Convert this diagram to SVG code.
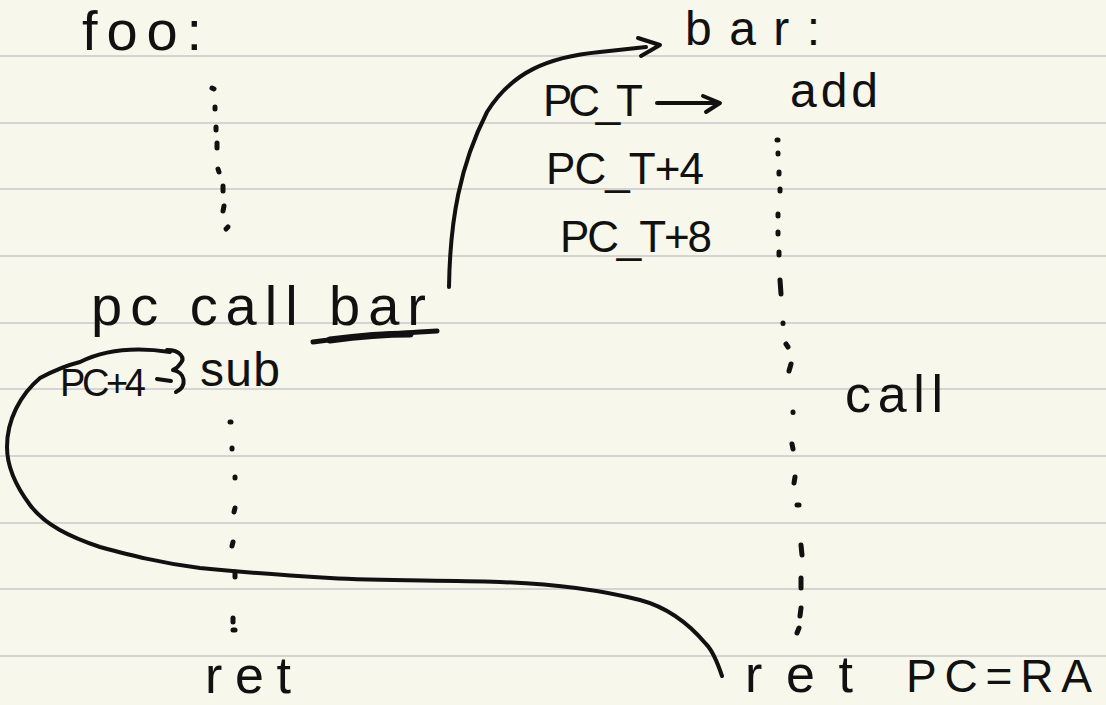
<svg xmlns="http://www.w3.org/2000/svg" width="1106" height="705" viewBox="0 0 1106 705">
<style>
.t{font-family:"Liberation Sans",Arial,sans-serif;fill:#111}
.rule{stroke:#d4d4d2;stroke-width:2}
.ink{fill:none;stroke:#111;stroke-width:4;stroke-linecap:round;stroke-linejoin:round}
.dot{fill:none;stroke:#111;stroke-width:5;stroke-linecap:round}
</style>
<rect width="1106" height="705" fill="#f8f7eb"/>
<g id="rules">
<line class="rule" x1="0" y1="56" x2="1106" y2="56"/>
<line class="rule" x1="0" y1="123" x2="1106" y2="123"/>
<line class="rule" x1="0" y1="189" x2="1106" y2="189"/>
<line class="rule" x1="0" y1="256" x2="1106" y2="256"/>
<line class="rule" x1="0" y1="323" x2="1106" y2="323"/>
<line class="rule" x1="0" y1="389" x2="1106" y2="389"/>
<line class="rule" x1="0" y1="456" x2="1106" y2="456"/>
<line class="rule" x1="0" y1="523" x2="1106" y2="523"/>
<line class="rule" x1="0" y1="589" x2="1106" y2="589"/>
<line class="rule" x1="0" y1="656" x2="1106" y2="656"/>
</g>
<g id="foo">
<text class="t" x="82" y="50" font-size="56" textLength="120" lengthAdjust="spacing">foo:</text>
<g id="foo-dots">
<path class="dot" d="M212,88 l2,1"/>
<path class="dot" d="M215,107 l0,2"/>
<path class="dot" d="M216,127 l0,3"/>
<path class="dot" d="M217,143 l0,5"/>
<path class="dot" d="M218,169 l1,3"/>
<path class="dot" d="M223,186 l0,5"/>
<path class="dot" d="M224,206 l-1,5"/>
<path class="dot" d="M228,227 l-2,2"/>
</g>
</g>
<g id="call-bar">
<text class="t" x="91" y="325" font-size="56" textLength="335" lengthAdjust="spacing">pc call bar</text>
<path d="M313,342 C350,337 400,333 437,331" fill="none" stroke="#111" stroke-width="5" stroke-linecap="round"/>
<path d="M330,340 C360,336 390,334 410,334" fill="none" stroke="#111" stroke-width="7" stroke-linecap="round"/>
</g>
<g id="sub">
<text class="t" x="60" y="396" font-size="38" textLength="86" lengthAdjust="spacing">PC+4</text>
<path class="ink" d="M157,379 L171,381"/>
<text class="t" x="200" y="386" font-size="48" textLength="80" lengthAdjust="spacing">sub</text>
<g id="sub-dots">
<path class="dot" d="M230,422 l1,0"/>
<path class="dot" d="M232,448 l0,1"/>
<path class="dot" d="M235,477 l0,1"/>
<path class="dot" d="M235,508 l-1,4"/>
<path class="dot" d="M233,542 l-1,4"/>
<path class="dot" d="M235,572 l0,5"/>
<path class="dot" d="M233,618 l0,4"/>
<path class="dot" d="M233,630 l2,0"/>
</g>
</g>
<g id="foo-ret">
<text class="t" x="205" y="693" font-size="52" textLength="86" lengthAdjust="spacing">ret</text>
</g>
<g id="bar">
<text class="t" x="685" y="45" font-size="48" textLength="135" lengthAdjust="spacing">bar:</text>
<text class="t" x="543" y="116" font-size="44" textLength="100" lengthAdjust="spacing">PC_T</text>
<path class="ink" d="M657,103 L719,103 M703,96 L720,103 L706,112"/>
<text class="t" x="790" y="107" font-size="48" textLength="88" lengthAdjust="spacing">add</text>
<text class="t" x="546" y="184" font-size="44" textLength="158" lengthAdjust="spacing">PC_T+4</text>
<text class="t" x="560" y="252" font-size="44" textLength="152" lengthAdjust="spacing">PC_T+8</text>
<text class="t" x="845" y="412" font-size="52" textLength="98" lengthAdjust="spacing">call</text>
<g id="bar-dots">
<path class="dot" d="M777,140 l1,0"/>
<path class="dot" d="M778,153 l0,1"/>
<path class="dot" d="M779,172 l0,2"/>
<path class="dot" d="M780,189 l0,2"/>
<path class="dot" d="M778,214 l0,2"/>
<path class="dot" d="M778,232 l0,2"/>
<path class="dot" d="M779,252 l0,3"/>
<path class="dot" d="M780,280 l1,14"/>
<path class="dot" d="M783,323 l0,0.5"/>
<path class="dot" d="M786,344 l2,3"/>
<path class="dot" d="M791,364 l-2,7"/>
<path class="dot" d="M793,412 l0,0.5"/>
<path class="dot" d="M792,444 l1,5"/>
<path class="dot" d="M795,477 l-1,6"/>
<path class="dot" d="M797,505 l2,0"/>
<path class="dot" d="M801,545 l1,10"/>
<path class="dot" d="M801,578 l0,10"/>
<path class="dot" d="M801,608 l-1,8"/>
<path class="dot" d="M799,628 l-2,5"/>
</g>
</g>
<g id="bar-ret">
<text class="t" x="745" y="692" font-size="52" textLength="108" lengthAdjust="spacing">ret</text>
<text class="t" x="906" y="692" font-size="46" textLength="186" lengthAdjust="spacing">PC=RA</text>
</g>
<g id="connectors">
<path class="ink" d="M449,287 C450,220 460,165 487,112 C512,72 548,57 600,52 L646,47"/>
<path class="ink" d="M638,38 L660,45 L641,56"/>
<path class="ink" d="M722,676 C716,658 712,650 706,644 C690,625 670,608 640,600 C600,590 560,584 500,582 C430,580 380,581 330,578 C280,575 230,571 200,568 C160,563 130,555 100,547 C70,537 45,525 30,505 C15,485 7,465 7,447 C7,420 20,395 40,378 C55,370 68,365 80,362 C100,352 130,346 170,352"/>
<path class="ink" d="M167,350 C180,350 186,358 180,364 C178,367 176,369 173,370 C185,372 188,386 176,392"/>
</g>
</svg>
